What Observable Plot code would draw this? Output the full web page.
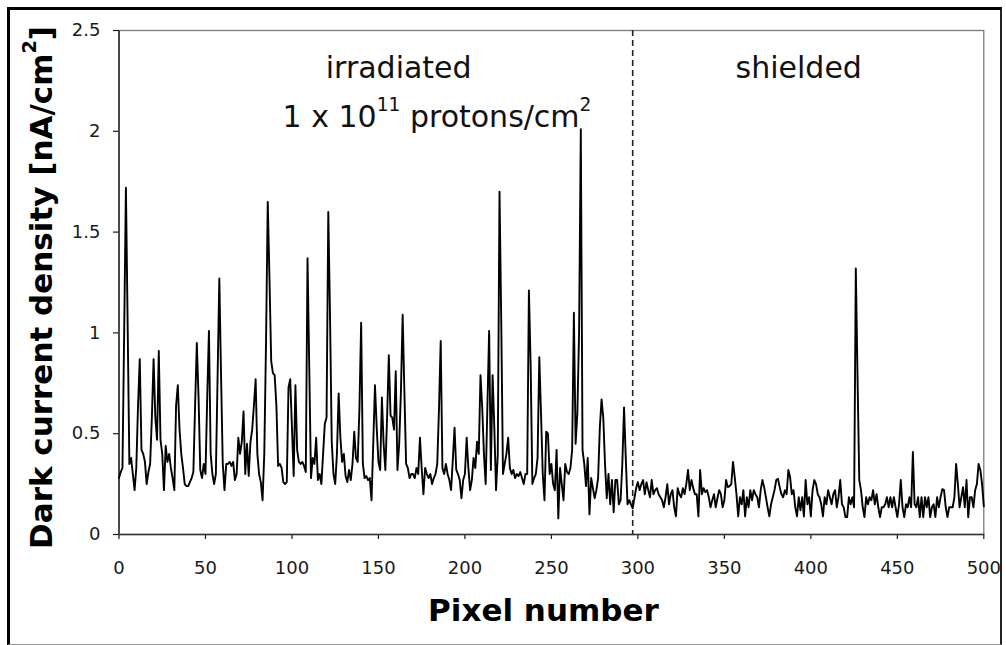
<!DOCTYPE html>
<html><head><meta charset="utf-8">
<script src="https://cdn.jsdelivr.net/npm/d3@7"></script>
<script src="https://cdn.jsdelivr.net/npm/@observablehq/plot@0.6"></script>
<style>
html,body{margin:0;padding:0;background:#fff;}
#wrap{position:relative;width:1006px;height:645px;overflow:hidden;background:#fff;}
#frame{position:absolute;left:7px;top:7px;width:995px;height:638px;box-sizing:border-box;border-left:3px solid #000;border-top:3px solid #000;border-right:2px solid #222;border-bottom:1px solid #999;pointer-events:none;}
</style></head><body>
<div id="wrap"><div id="chart"></div><div id="frame"></div></div>
<script>
// Dark current density [nA/cm^2] for pixel numbers 0..500
const density = [
  .28,.31,.33,1.01,1.72,1.04,.35,.38,.30,.22,
  .33,.64,.87,.42,.40,.36,.25,.31,.35,.58,
  .87,.58,.47,.91,.47,.40,.22,.44,.36,.40,
  .33,.28,.22,.64,.74,.52,.40,.33,.25,.24,
  .24,.26,.28,.31,.64,.95,.68,.32,.28,.35,
  .30,.68,1.01,.40,.30,.25,.30,.78,1.27,.79,
  .35,.22,.35,.35,.36,.34,.36,.27,.30,.48,
  .40,.46,.61,.30,.45,.29,.46,.52,.64,.77,
  .40,.30,.26,.17,.40,.95,1.65,1.27,.86,.80,
  .79,.64,.34,.35,.33,.26,.25,.26,.73,.77,
  .53,.29,.74,.42,.36,.35,.36,.34,.31,1.37,
  .83,.28,.38,.35,.48,.27,.30,.25,.40,.55,
  .58,1.60,1.09,.46,.30,.25,.40,.70,.48,.36,
  .40,.29,.26,.32,.27,.35,.51,.38,.36,.62,
  1.05,.35,.28,.29,.27,.28,.17,.45,.74,.53,
  .36,.32,.68,.45,.32,.58,.89,.59,.58,.52,
  .81,.32,.45,.71,1.09,.71,.35,.33,.28,.30,
  .30,.28,.33,.30,.48,.33,.20,.33,.30,.28,
  .30,.25,.28,.30,.35,.62,.96,.33,.30,.35,
  .30,.27,.22,.37,.53,.32,.30,.27,.18,.27,
  .30,.48,.33,.22,.27,.38,.33,.46,.40,.79,
  .63,.40,.25,.64,1.01,.32,.79,.53,.22,.40,
  1.70,1.06,.30,.35,.40,.48,.33,.30,.32,.28,
  .30,.29,.31,.28,.25,.30,.30,1.21,.84,.25,
  .28,.30,.38,.88,.60,.30,.17,.51,.50,.30,
  .35,.25,.22,.42,.08,.33,.25,.17,.35,.31,
  .30,.33,.42,1.10,.45,.60,1.00,2.01,.42,.35,
  .24,.38,.10,.28,.23,.18,.22,.28,.53,.67,
  .58,.35,.18,.30,.15,.27,.11,.27,.27,.15,
  .17,.35,.63,.38,.15,.17,.15,.13,.18,.23,
  .26,.22,.25,.27,.20,.26,.22,.185,.27,.20,
  .22,.23,.20,.185,.17,.135,.185,.25,.15,.20,
  .22,.135,.09,.23,.20,.185,.23,.20,.25,.32,
  .22,.27,.23,.20,
  .20,.09,.32,.20,.23,.21,.22,.185,.135,.17,
  .20,.135,.18,.22,.20,.135,.17,.27,.235,.24,
  .25,.36,.285,.20,.09,.185,.15,.22,.09,.185,
  .135,.22,.17,.22,.20,.185,.135,.22,.27,.235,
  .185,.135,.09,.15,.185,.22,.27,.276,.235,.20,
  .185,.22,.20,.32,.285,.20,.22,.135,.09,.185,
  .12,.185,.09,.27,.15,.185,.09,.22,.27,.25,
  .20,.185,.15,.09,.185,.15,.22,.185,.15,.20,
  .22,.135,.185,
  .27,.15,.135,.086,.086,.185,.15,.185,.135,1.32,
  .78,.27,.22,.135,.086,.185,.15,.185,.17,.22,
  .15,.20,.135,.086,.135,.135,.15,.185,.135,.185,
  .135,.185,.135,.086,.15,.27,.135,.086,.15,.135,
  .185,.135,.41,.15,.135,.185,.086,.185,.086,.185,
  .135,.185,.086,.135,.15,.086,.185,.135,.185,.225,
  .22,.135,.086,.135,.135,.135,.185,.35,.25,.135,
  .185,.235,.135,.27,.086,.185,.185,.135,.22,.25,
  .35,.32,.25,.14
];
const xTicks = [0, 50, 100, 150, 200, 250, 300, 350, 400, 450, 500];
const yTicks = [0, 0.5, 1, 1.5, 2, 2.5];
const dividerPixel = [297];
const regionText = ["irradiated", "shielded"];
const regionPixel = [161.7, 393];
const regionDensity = [2.262, 2.262];
const fluenceText = ["1 x 10^{11} protons/cm^{2}"];
const fluencePixel = [94.6];
const fluenceDensity = [2.019];
const xTitle = ["Pixel number"];
const yTitle = ["Dark current density [nA/cm^{2}]"];

const rows = density.map((v, i) => ({pixel: i, value: v}));
const regions = regionText.map((t, i) => ({text: t, x: regionPixel[i], y: regionDensity[i]}));
const fluence = fluenceText.map((t, i) => ({text: t, x: fluencePixel[i], y: fluenceDensity[i]}));

const FONT = "DejaVu Sans, sans-serif";
const chart = Plot.plot({
  width: 1006, height: 645,
  marginLeft: 118.5, marginRight: 22.7, marginTop: 30, marginBottom: 111,
  style: {fontFamily: FONT, fontSize: "18px", color: "#1a1a1a", background: "transparent", overflow: "visible"},
  x: {domain: [0, 500]},
  y: {domain: [0, 2.5]},
  marks: [
    Plot.frame({stroke: "#7a7a7a", strokeWidth: 1.3}),
    Plot.axisX({ticks: xTicks, tickSize: 5, tickPadding: 22, label: null, fontSize: 18, strokeWidth: 1.2, tickFormat: d => `${d}`}),
    Plot.axisY({ticks: yTicks, tickSize: 5.5, tickPadding: 13, label: null, fontSize: 18, strokeWidth: 1.2, tickFormat: d => `${d}`}),
    Plot.ruleY([0], {stroke: "#333", strokeWidth: 1.6}),
    Plot.ruleX([0], {stroke: "#333", strokeWidth: 1.6}),
    Plot.ruleX(dividerPixel, {stroke: "#222", strokeWidth: 1.6, strokeDasharray: "6,4"}),
    Plot.line(rows, {x: "pixel", y: "value", stroke: "#000", strokeWidth: 1.9}),
    Plot.text(regions, {x: "x", y: "y", text: "text", fontSize: 30, lineAnchor: "bottom", textAnchor: "middle", fill: "#111"}),
    Plot.text(fluence, {x: "x", y: "y", text: "text", fontSize: 30, lineAnchor: "bottom", textAnchor: "start", fill: "#111"}),
    Plot.text(xTitle, {text: d => d, frameAnchor: "bottom", dx: -8, dy: 86, fontSize: 31, fontWeight: "bold", fill: "#000", textAnchor: "middle"}),
    Plot.text(yTitle, {text: d => d, frameAnchor: "left", dx: -77, dy: 5, rotate: -90, fontSize: 31, fontWeight: "bold", fill: "#000", textAnchor: "middle"})
  ]
});
document.getElementById("chart").appendChild(chart);

// superscripts
d3.select(chart).selectAll("text").each(function() {
  const t = this.textContent;
  if (!t.includes("^{")) return;
  const sel = d3.select(this);
  sel.text(null);
  const parts = t.split(/\^\{([^}]*)\}/);
  parts.forEach((p, i) => {
    if (p === "") return;
    if (i % 2 === 1) {
      sel.append("tspan").attr("font-size", "0.62em").attr("dy", "-16").text(p);
      if (i + 1 < parts.length && parts[i + 1] !== "") sel.append("tspan").attr("dy", "16").text(parts[i + 1]);
    } else if (i === 0) {
      sel.append("tspan").text(p);
    }
  });
});
</script>
</body></html>
